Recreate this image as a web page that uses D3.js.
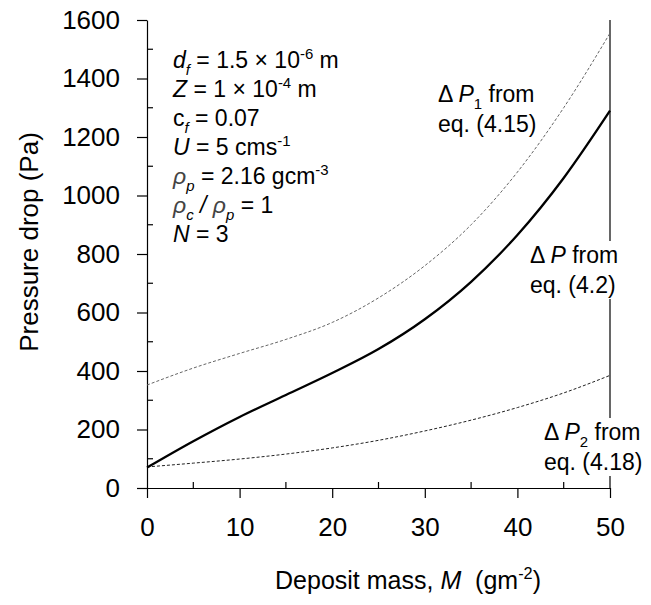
<!DOCTYPE html>
<meta charset="utf-8">
<style>
    body { margin: 0; background: #fff; }
    svg text { font-family: "Liberation Sans", Arial, sans-serif; fill: #000; }
    .axis path, .axis line { stroke: #000; stroke-width: 1.2; }
    .axis text { font-size: 26px; font-family: "Liberation Sans", Arial, sans-serif; }
</style>
<svg width="651" height="605"></svg>
<script src="https://d3js.org/d3.v7.min.js"></script>
<script>

    // deposit mass (g/m2) and pressure drops (Pa)
    var mass = [0, 5, 10, 15, 20, 25, 30, 35, 40, 45, 50];
    var dpTotal = [70, 160, 243, 318, 393, 475, 577, 705, 865, 1060, 1290];
    var dp1 = [352, 410, 460, 508, 566, 650, 760, 900, 1080, 1300, 1555];
    var dp2 = [72, 85, 99, 116, 137, 163, 195, 232, 275, 325, 385];

    var xTicks = [0, 10, 20, 30, 40, 50];
    var yTicks = [0, 200, 400, 600, 800, 1000, 1200, 1400, 1600];

    // text blocks: each line is a list of [text, style]
    var params = [
        [["d", "i"], ["f", "isub"], [" = 1.5 × 10", ""], ["-6", "sup"], [" m", ""]],
        [["Z", "i"], [" = 1 × 10", ""], ["-4", "sup"], [" m", ""]],
        [["c", ""], ["f", "isub"], [" = 0.07", ""]],
        [["U", "i"], [" = 5 cms", ""], ["-1", "sup"]],
        [["ρ", "ig"], ["p", "isub"], [" = 2.16 gcm", ""], ["-3", "sup"]],
        [["ρ", "ig"], ["c", "isub"], [" / ", "i"], ["ρ", "ig"], ["p", "isub"], [" = 1", ""]],
        [["N", "i"], [" = 3", ""]]
    ];
    var curveLabels = [
        {x: 438, y: 102, lines: [[["Δ ", ""], ["P", "i"], ["1", "sub"], [" from", ""]], [["eq. (4.15)", ""]]]},
        {x: 530, y: 263, lines: [[["Δ ", ""], ["P", "i"], [" from", ""]], [["eq. (4.2)", ""]]]},
        {x: 544, y: 440, lines: [[["Δ ", ""], ["P", "i"], ["2", "sub"], [" from", ""]], [["eq. (4.18)", ""]]]}
    ];

    var svg = d3.select("svg"),
        margin = {top: 20, right: 41, bottom: 117, left: 147},
        width = +svg.attr("width") - margin.left - margin.right,
        height = +svg.attr("height") - margin.top - margin.bottom,
        g = svg.append("g").attr("transform",
            "translate(" + margin.left + "," + margin.top + ")");

    var x = d3.scaleLinear().domain([0, 50]).range([0, width]);
    var y = d3.scaleLinear().domain([0, 1600]).range([height, 0]);

    // right frame line
    g.append("line")
        .attr("x1", x(50)).attr("x2", x(50))
        .attr("y1", y(1600)).attr("y2", y(0))
        .attr("stroke", "#000").attr("stroke-width", 1.2);

    // minor ticks point inward
    g.selectAll(".ymin").data(d3.range(100, 1600, 200)).enter().append("line")
        .attr("x1", 0).attr("x2", 6)
        .attr("y1", function (d) { return y(d); }).attr("y2", function (d) { return y(d); })
        .attr("stroke", "#000").attr("stroke-width", 1.2);
    g.selectAll(".xmin").data(d3.range(5, 50, 10)).enter().append("line")
        .attr("y1", height).attr("y2", height - 6)
        .attr("x1", function (d) { return x(d); }).attr("x2", function (d) { return x(d); })
        .attr("stroke", "#000").attr("stroke-width", 1.2);

    // major ticks point outward
    g.append("g").attr("class", "axis")
        .call(d3.axisLeft(y).tickValues(yTicks).tickFormat(d3.format("d"))
            .tickSize(10).tickSizeOuter(0).tickPadding(17));
    g.append("g").attr("class", "axis")
        .attr("transform", "translate(0," + height + ")")
        .call(d3.axisBottom(x).tickValues(xTicks).tickFormat(d3.format("d"))
            .tickSize(10).tickSizeOuter(0).tickPadding(20));

    var line = function (vals) {
        return d3.line()
            .x(function (d, i) { return x(mass[i]); })
            .y(function (d) { return y(d); })
            .curve(d3.curveMonotoneX)(vals);
    };

    g.append("path").attr("d", line(dp1))
        .attr("fill", "none").attr("stroke", "#666")
        .attr("stroke-width", 1).attr("stroke-dasharray", "3,2");
    g.append("path").attr("d", line(dp2))
        .attr("fill", "none").attr("stroke", "#222")
        .attr("stroke-width", 1).attr("stroke-dasharray", "3,2");
    g.append("path").attr("d", line(dpTotal))
        .attr("fill", "none").attr("stroke", "#000")
        .attr("stroke-width", 2.3);

    // writes a line of mixed text into a text element
    function richLine(text, parts, size) {
        var shift = 0;
        parts.forEach(function (p) {
            var t = text.append("tspan").text(p[0]);
            var target = 0;
            if (p[1] == "sub" || p[1] == "isub") target = 0.3 * size;
            if (p[1] == "sup") target = -0.4 * size;
            t.attr("dy", target - shift);
            shift = target;
            if (p[1] == "sub" || p[1] == "isub" || p[1] == "sup") t.style("font-size", (0.65 * size) + "px");
            if (p[1] == "i" || p[1] == "isub") t.style("font-style", "italic");
            if (p[1] == "ig") t.style("font-style", "italic").style("fill", "#444");
        });
    }

    params.forEach(function (parts, i) {
        var t = svg.append("text")
            .attr("x", 173).attr("y", 68 + i * 29)
            .style("font-size", "23px");
        richLine(t, parts, 23);
    });

    curveLabels.forEach(function (lab) {
        var grp = svg.append("g");
        var bg = grp.append("rect").attr("fill", "#fff");
        lab.lines.forEach(function (parts, i) {
            var t = grp.append("text")
                .attr("x", lab.x).attr("y", lab.y + i * 30)
                .style("font-size", "23px");
            richLine(t, parts, 23);
        });
        var b = grp.node().getBBox();
        bg.attr("x", b.x - 1).attr("y", b.y - 1)
            .attr("width", b.width + 2).attr("height", b.height + 2);
    });

    // axis titles
    var xt = svg.append("text")
        .attr("x", 408).attr("y", 589)
        .attr("text-anchor", "middle")
        .style("font-size", "25px");
    richLine(xt, [["Deposit mass, ", ""], ["M", "i"], ["\u00a0 (gm", ""], ["-2", "sup"], [")", ""]], 25);

    svg.append("text")
        .attr("transform", "translate(38,242) rotate(-90)")
        .attr("text-anchor", "middle")
        .style("font-size", "26px")
        .text("Pressure drop (Pa)");
</script>
